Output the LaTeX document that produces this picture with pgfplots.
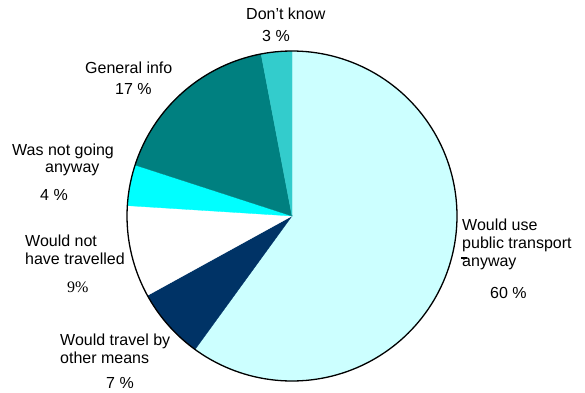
\documentclass[border=0pt]{standalone}
\usepackage{pgfplots}
\pgfplotsset{compat=1.18}
\usepackage{fontspec}
\setmainfont{Liberation Sans}
\newfontfamily\seriffont{Liberation Serif}
\definecolor{cPublic}{HTML}{CCFFFF}
\definecolor{cOther}{HTML}{003366}
\definecolor{cNot}{HTML}{FFFFFF}
\definecolor{cNotGoing}{HTML}{00FFFF}
\definecolor{cGeneral}{HTML}{008080}
\definecolor{cDont}{HTML}{33CCCC}
\tikzset{lbl/.style={font=\fontsize{16}{18}\selectfont, inner sep=0pt, anchor=base west}}
\begin{document}
\begin{tikzpicture}
% percentages (clockwise from top)
\def\pA{60}\def\pB{7}\def\pC{9}\def\pD{4}\def\pE{17}\def\pF{3}
\pgfmathsetmacro\aA{90}
\pgfmathsetmacro\aB{\aA-3.6*\pA}
\pgfmathsetmacro\aC{\aB-3.6*\pB}
\pgfmathsetmacro\aD{\aC-3.6*\pC}
\pgfmathsetmacro\aE{\aD-3.6*\pD}
\pgfmathsetmacro\aF{\aE-3.6*\pE}
\pgfmathsetmacro\aG{\aF-3.6*\pF}
\begin{axis}[
  scale only axis, width=585pt, height=392pt,
  xmin=0, xmax=585, ymin=0, ymax=392,
  axis lines=none, clip=false,
]
\path (axis cs:0,0) rectangle (axis cs:585,392);
\addplot[fill=cPublic, draw=cPublic, line width=0.3pt, domain=\aB:\aA, samples=120, variable=\t]
  ({292+165*cos(t)},{176+165*sin(t)}) -- (axis cs:292,176) -- cycle;
\addplot[fill=cOther, draw=cOther, line width=0.3pt, domain=\aC:\aB, samples=30, variable=\t]
  ({292+165*cos(t)},{176+165*sin(t)}) -- (axis cs:292,176) -- cycle;
\addplot[fill=cNot, draw=cNot, line width=0.3pt, domain=\aD:\aC, samples=30, variable=\t]
  ({292+165*cos(t)},{176+165*sin(t)}) -- (axis cs:292,176) -- cycle;
\addplot[fill=cNotGoing, draw=cNotGoing, line width=0.3pt, domain=\aE:\aD, samples=20, variable=\t]
  ({292+165*cos(t)},{176+165*sin(t)}) -- (axis cs:292,176) -- cycle;
\addplot[fill=cGeneral, draw=cGeneral, line width=0.3pt, domain=\aF:\aE, samples=50, variable=\t]
  ({292+165*cos(t)},{176+165*sin(t)}) -- (axis cs:292,176) -- cycle;
\addplot[fill=cDont, draw=cDont, line width=0.3pt, domain=\aG:\aF, samples=15, variable=\t]
  ({292+165*cos(t)},{176+165*sin(t)}) -- (axis cs:292,176) -- cycle;
% outline
\addplot[black, line width=1.3pt, domain=0:360, samples=200, variable=\t]
  ({292+165*cos(t)},{176+165*sin(t)});
% labels
\node[lbl] at (axis cs:246,372) {Don’t know};
\node[lbl] at (axis cs:262,351) {3 \%};
\node[lbl] at (axis cs:85,319) {General info};
\node[lbl] at (axis cs:115,298) {17 \%};
\node[lbl] at (axis cs:12,237) {Was not going};
\node[lbl] at (axis cs:45,220) {anyway};
\node[lbl] at (axis cs:40,192) {4 \%};
\node[lbl] at (axis cs:25,146) {Would not};
\node[lbl] at (axis cs:25,128) {have travelled};
\node[lbl, font=\seriffont\fontsize{16}{18}\selectfont] at (axis cs:67,100) {9\%};
\node[lbl] at (axis cs:60,47) {Would travel by};
\node[lbl] at (axis cs:60,29) {other means};
\node[lbl] at (axis cs:106,4) {7 \%};
\node[lbl] at (axis cs:462,162) {Would use};
\node[lbl] at (axis cs:462,144) {public transport};
\node[lbl] at (axis cs:462,126) {anyway};
\node[lbl] at (axis cs:490,94) {60 \%};
\draw[line width=2pt] (axis cs:461,134) -- (axis cs:467,134);
\end{axis}
\end{tikzpicture}
\end{document}
